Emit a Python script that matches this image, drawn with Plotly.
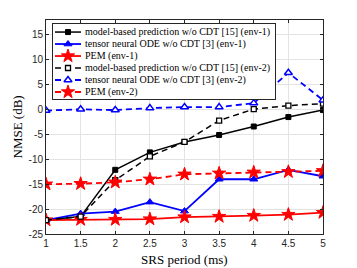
import plotly.graph_objects as go

srs = [1, 1.5, 2, 2.5, 3, 3.5, 4, 4.5, 5]
mb_env1 = [-22.2, -21.5, -12.1, -8.6, -6.5, -5.1, -3.4, -1.5, -0.1]
tn_env1 = [-22.2, -20.9, -20.5, -18.6, -20.4, -14.0, -14.0, -12.1, -13.4]
pem_env1 = [-22.2, -22.1, -22.1, -22.0, -21.6, -21.5, -21.3, -21.1, -20.7]
mb_env2 = [-22.2, -21.5, -14.2, -9.4, -6.5, -2.2, 0.1, 0.8, 1.2]
tn_env2 = [-0.2, 0.05, -0.1, 0.3, 0.5, 0.5, 1.3, 7.4, 1.9]
pem_env2 = [-15.0, -14.9, -14.6, -14.0, -13.0, -12.8, -12.6, -12.5, -12.3]

names = [
    "model-based prediction w/o CDT [15] (env-1)",
    "tensor neural ODE w/o CDT [3] (env-1)",
    "PEM (env-1)",
    "model-based prediction w/o CDT [15] (env-2)",
    "tensor neural ODE w/o CDT [3] (env-2)",
    "PEM (env-2)",
]
series = [mb_env1, tn_env1, pem_env1, mb_env2, tn_env2, pem_env2]
x_ticks = [1, 1.5, 2, 2.5, 3, 3.5, 4, 4.5, 5]
x_tick_text = ["1", "1.5", "2", "2.5", "3", "3.5", "4", "4.5", "5"]
y_ticks = [-25, -20, -15, -10, -5, 0, 5, 10, 15]
y_tick_text = ["-25", "-20", "-15", "-10", "-5", "0", "5", "10", "15"]

styles = [
    dict(line=dict(color="#000000", width=1.5, dash="solid"),
         marker=dict(symbol="square", size=5, color="#000000", line=dict(color="#000000", width=1))),
    dict(line=dict(color="#0000ff", width=1.8, dash="solid"),
         marker=dict(symbol="triangle-up", size=7, color="#0000ff", line=dict(color="#0000ff", width=1))),
    dict(line=dict(color="#ff0000", width=1.8, dash="solid"),
         marker=dict(symbol="star", size=10, color="#ff0000", line=dict(color="#ff0000", width=1))),
    dict(line=dict(color="#000000", width=1.5, dash="6px,4px"),
         marker=dict(symbol="square", size=5, color="#ffffff", line=dict(color="#000000", width=1.3))),
    dict(line=dict(color="#0000ff", width=1.8, dash="6px,4px"),
         marker=dict(symbol="triangle-up", size=7, color="#ffffff", line=dict(color="#0000ff", width=1.5))),
    dict(line=dict(color="#ff0000", width=1.8, dash="6px,4px"),
         marker=dict(symbol="star", size=10, color="#ff0000", line=dict(color="#ff0000", width=1))),
]

SERIF = "Liberation Serif"

fig = go.Figure()
for name, ys, st in zip(names, series, styles):
    fig.add_trace(go.Scatter(x=srs, y=ys, mode="lines+markers", name=name,
                             line=st["line"], marker=st["marker"], showlegend=False,
                             xaxis="x", yaxis="y"))

# manual legend drawn in an inset subplot (pixel-like units)
row_y = [8, 20, 32, 44, 56, 68]
for name, st, ry in zip(names, styles, row_y):
    mk = dict(st["marker"])
    mk["opacity"] = [0, 1, 0]
    fig.add_trace(go.Scatter(x=[2, 15, 28], y=[ry, ry, ry], mode="lines+markers",
                             line=st["line"], marker=mk, showlegend=False,
                             hoverinfo="skip", xaxis="x2", yaxis="y2"))
    fig.add_annotation(x=30, y=ry, xref="x2", yref="y2", text=name, showarrow=False,
                       xanchor="left", yanchor="middle",
                       font=dict(family=SERIF, size=10, color="#000000"))

fig.add_annotation(x=0.5, y=0, xref="paper", yref="paper", text="SRS period (ms)",
                   showarrow=False, xanchor="center", yanchor="top", yshift=-16,
                   font=dict(family=SERIF, size=13, color="#000000"))
fig.add_annotation(x=0, y=0.5, xref="paper", yref="paper", text="NMSE (dB)",
                   showarrow=False, xanchor="right", yanchor="middle", xshift=-20,
                   textangle=-90, font=dict(family=SERIF, size=13, color="#000000"))

axis_font = dict(family="Liberation Sans", size=10, color="#262626")
fig.update_layout(
    width=349, height=260,
    margin=dict(l=38, r=34, t=12, b=34, autoexpand=False),
    paper_bgcolor="#ffffff", plot_bgcolor="#ffffff",
    showlegend=False,
    xaxis=dict(range=[1, 5], tickvals=x_ticks, ticktext=x_tick_text, automargin=False,
               showgrid=True, gridcolor="#e3e3e3", gridwidth=1,
               zeroline=False, showline=True, linecolor="#262626", linewidth=1,
               mirror="allticks", ticks="inside", ticklen=3, tickcolor="#262626",
               tickfont=axis_font),
    yaxis=dict(range=[-25, 18], tickvals=y_ticks, ticktext=y_tick_text, automargin=False,
               showgrid=True, gridcolor="#e3e3e3", gridwidth=1,
               zeroline=False, showline=True, linecolor="#262626", linewidth=1,
               mirror="allticks", ticks="inside", ticklen=3, tickcolor="#262626",
               tickfont=axis_font),
    xaxis2=dict(domain=[0.0253, 0.8267], range=[0, 222], anchor="y2", automargin=False,
                showgrid=False, zeroline=False, showticklabels=False, ticks="",
                showline=True, linecolor="#262626", linewidth=1, mirror=True, fixedrange=True),
    yaxis2=dict(domain=[0.631, 0.981], range=[75, 0], anchor="x2", automargin=False,
                showgrid=False, zeroline=False, showticklabels=False, ticks="",
                showline=True, linecolor="#262626", linewidth=1, mirror=True, fixedrange=True),
)

fig.write_html("out.html")
